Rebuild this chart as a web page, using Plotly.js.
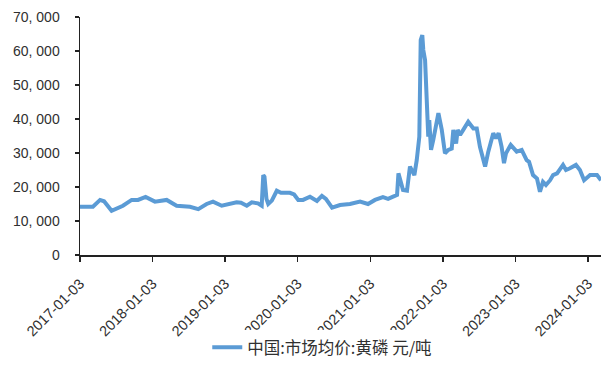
<!DOCTYPE html>
<html>
<head>
<meta charset="utf-8">
<script src="https://cdn.plot.ly/plotly-3.0.1.min.js"></script>
<style>
  html, body { margin: 0; padding: 0; background: #fff; }
  #chart { width: 601px; height: 365px; }
</style>
</head>
<body>
<div id="chart"></div>
<script>
// Yellow phosphorus, China market average price (yuan / tonne)
const seriesName = '中国:市场均价:黄磷 元/吨';

const dates = [
  '2017-01-03','2017-03-09','2017-04-14','2017-05-04','2017-06-11','2017-07-08','2017-08-07','2017-09-20',
  '2017-10-22','2017-11-29','2018-01-15','2018-03-15','2018-05-04','2018-07-10','2018-08-21','2018-10-02',
  '2018-11-03','2018-12-17','2019-01-28','2019-03-02','2019-03-24','2019-04-22','2019-05-17','2019-06-17',
  '2019-07-06','2019-07-14','2019-07-20','2019-07-30','2019-08-08','2019-08-26','2019-09-20','2019-10-11',
  '2019-11-25','2019-12-16','2020-01-06','2020-01-30','2020-03-05','2020-04-09','2020-05-04','2020-05-24',
  '2020-06-24','2020-08-03','2020-09-22','2020-11-12','2020-12-22','2021-01-26','2021-03-07','2021-04-02',
  '2021-04-27','2021-05-17','2021-05-24','2021-06-04','2021-06-16','2021-07-06','2021-07-21','2021-08-12',
  '2021-08-24','2021-09-06','2021-09-13','2021-09-21','2021-09-26','2021-10-05','2021-10-10','2021-10-16',
  '2021-10-21','2021-10-26','2021-11-04','2021-11-15','2021-12-11','2021-12-28','2022-01-13','2022-01-30',
  '2022-02-16','2022-02-24','2022-03-10','2022-03-18','2022-03-30','2022-04-15','2022-05-10','2022-06-05',
  '2022-06-22','2022-07-08','2022-08-03','2022-08-19','2022-09-13','2022-09-27','2022-10-10','2022-10-25',
  '2022-11-06','2022-11-16','2022-12-10','2023-01-09','2023-02-03','2023-02-28','2023-03-12','2023-04-01',
  '2023-04-21','2023-05-06','2023-05-21','2023-06-05','2023-06-26','2023-07-11','2023-07-31','2023-08-30',
  '2023-09-14','2023-10-04','2023-11-03','2023-11-23','2023-12-14','2024-01-13','2024-02-17','2024-03-08'
];

const prices = [
  14200, 14200, 16200, 15800, 13000, 13600, 14500, 16200,
  16200, 17100, 15700, 16200, 14500, 14200, 13500, 15000,
  15700, 14500, 15000, 15500, 15400, 14500, 15500, 15200,
  14500, 23500, 23000, 16500, 15000, 16000, 18900, 18300,
  18300, 17800, 16200, 16200, 17150, 15900, 17400, 16500,
  13900, 14700, 15000, 15700, 15000, 16200, 17000, 16500,
  17150, 17650, 24000, 21000, 19100, 18900, 26000, 23500,
  27900, 34800, 63200, 64700, 60300, 57300, 51500, 42600,
  34800, 39700, 30900, 33800, 41700, 36800, 29900, 30900,
  31300, 36800, 32800, 36800, 35300, 36800, 39200, 37200,
  37200, 31800, 26000, 30400, 35800, 34300, 35800, 31800,
  27000, 29900, 32400, 30400, 30900, 27900, 27400, 23500,
  22500, 18600, 21500, 20600, 22000, 23500, 24000, 26500,
  25000, 25500, 26500, 25000, 22000, 23500, 23500, 22000
];

const xTickVals = ['2017-01-03','2018-01-03','2019-01-03','2020-01-03','2021-01-03','2022-01-03','2023-01-03','2024-01-03'];
const xTickText = ['2017-01-03','2018-01-03','2019-01-03','2020-01-03','2021-01-03','2022-01-03','2023-01-03','2024-01-03'];
const yTickVals = [0, 10000, 20000, 30000, 40000, 50000, 60000, 70000];
const yTickText = ['0', '10, 000', '20, 000', '30, 000', '40, 000', '50, 000', '60, 000', '70, 000'];
const xRange = ['2017-01-03', '2024-03-08'];
const yRange = [0, 70000];

const trace = {
  type: 'scatter',
  mode: 'lines',
  name: seriesName,
  x: dates,
  y: prices,
  line: { color: '#5b9bd5', width: 4 },
  hoverinfo: 'x+y'
};

const tickColor = '#222222';
const labelColor = '#303030';

const layout = {
  width: 601,
  height: 365,
  margin: { l: 80, r: 0, t: 17, b: 110 },
  paper_bgcolor: '#ffffff',
  plot_bgcolor: '#ffffff',
  showlegend: true,
  legend: {
    orientation: 'h',
    xref: 'paper',
    x: 0.465, xanchor: 'center',
    yref: 'container',
    y: 0, yanchor: 'bottom',
    font: { family: 'Noto Sans CJK SC, sans-serif', size: 16.5, color: labelColor },
    itemwidth: 30
  },
  xaxis: {
    type: 'date',
    range: xRange,
    tickmode: 'array',
    tickvals: xTickVals,
    ticktext: xTickText,
    tickangle: -45,
    tickfont: { family: 'Liberation Sans, Arial, sans-serif', size: 14.5, color: labelColor },
    ticklabelstandoff: 8,
    ticks: 'outside',
    ticklen: 5,
    tickwidth: 1.5,
    tickcolor: tickColor,
    showline: true,
    linecolor: tickColor,
    linewidth: 1.5,
    showgrid: false,
    zeroline: false,
    automargin: false
  },
  yaxis: {
    range: yRange,
    tickmode: 'array',
    tickvals: yTickVals,
    ticktext: yTickText,
    tickfont: { family: 'Liberation Sans, Arial, sans-serif', size: 14, color: labelColor },
    ticks: 'outside',
    ticklen: 4,
    tickwidth: 1.5,
    tickcolor: tickColor,
    ticklabelstandoff: 12,
    showline: true,
    linecolor: tickColor,
    linewidth: 1.5,
    showgrid: false,
    zeroline: false,
    automargin: false
  }
};

Plotly.newPlot('chart', [trace], layout, { staticPlot: true, displayModeBar: false });
</script>
</body>
</html>
